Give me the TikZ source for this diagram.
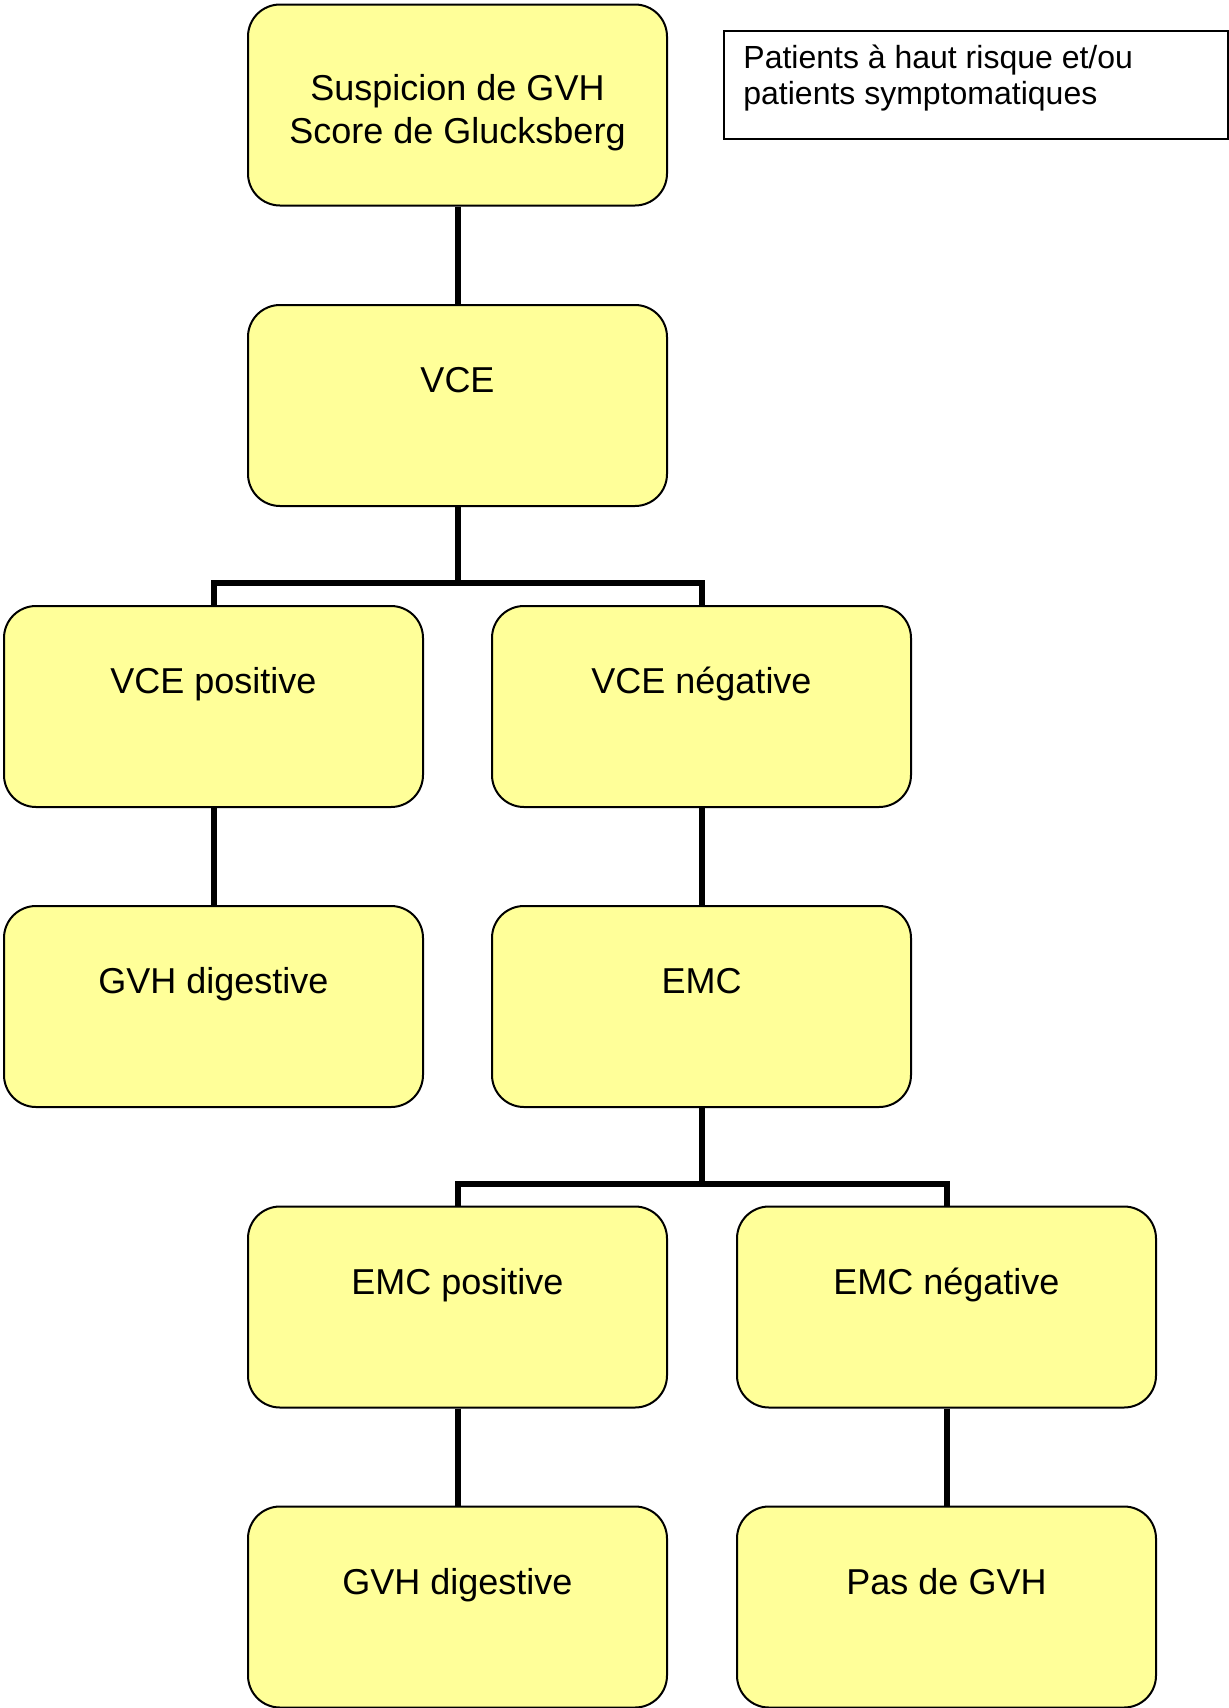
\documentclass[tikz,border=0pt]{standalone}
\usepackage{fontspec}
\setmainfont{Liberation Sans}
\definecolor{boxfill}{RGB}{255,255,153}
\tikzset{
  box/.style={draw=black, line width=1pt, fill=boxfill, rounded corners=16pt,
    rectangle, minimum width=209.5pt, minimum height=100.5pt, inner sep=0pt},
  lbl/.style={anchor=base, inner sep=0pt, font=\fontsize{18}{21}\selectfont},
  notelbl/.style={anchor=base west, inner sep=0pt, font=\fontsize{16}{18.5}\selectfont},
  conn/.style={line width=3pt, line join=miter, line cap=butt}
}
\begin{document}
\begin{tikzpicture}[x=0.5pt,y=-0.5pt]
\useasboundingbox (0,0) rectangle (1229,1708);
% note box
\node[draw=black, line width=1pt, rectangle, minimum width=252pt, minimum height=54pt, inner sep=0pt, anchor=north west] (note) at (723,30) {};
\node[notelbl] (note1) at (743,68) {Patients à haut risque et/ou};
\node[notelbl] (note2) at (743,104) {patients symptomatiques};
% boxes
\node[box] (top)    at (457.5,105)   {};
\node[box] (vce)    at (457.5,405.5) {};
\node[box] (vcepos) at (213.5,706.5) {};
\node[box] (vceneg) at (701.5,706.5) {};
\node[box] (gvha)   at (213.5,1006.5) {};
\node[box] (emc)    at (701.5,1006.5) {};
\node[box] (emcpos) at (457.5,1307)  {};
\node[box] (emcneg) at (946.5,1307)  {};
\node[box] (gvhb)   at (457.5,1607)  {};
\node[box] (pas)    at (946.5,1607)  {};
% labels
\node[lbl] (t1) at (457.5,100) {Suspicion de GVH};
\node[lbl] (t2) at (457.5,143) {Score de Glucksberg};
\node[lbl] (t3) at (457.5,392) {VCE};
\node[lbl] (t4) at (213.5,693) {VCE positive};
\node[lbl] (t5) at (701.5,693) {VCE négative};
\node[lbl] (t6) at (213.5,993) {GVH digestive};
\node[lbl] (t7) at (701.5,993) {EMC};
\node[lbl] (t8) at (457.5,1294) {EMC positive};
\node[lbl] (t9) at (946.5,1294) {EMC négative};
\node[lbl] (t10) at (457.5,1594) {GVH digestive};
\node[lbl] (t11) at (946.5,1594) {Pas de GVH};
% connectors
\coordinate (j1) at (457.5,583);
\coordinate (j2) at (701.5,1184);
\draw[conn] (top.south) -- (vce.north);
\draw[conn] (vce.south) -- (j1);
\draw[conn] (vcepos.north) |- (j1) -| (vceneg.north);
\draw[conn] (vcepos.south) -- (gvha.north);
\draw[conn] (vceneg.south) -- (emc.north);
\draw[conn] (emc.south) -- (j2);
\draw[conn] (emcpos.north) |- (j2) -| (emcneg.north);
\draw[conn] (emcpos.south) -- (gvhb.north);
\draw[conn] (emcneg.south) -- (pas.north);
\end{tikzpicture}
\end{document}
